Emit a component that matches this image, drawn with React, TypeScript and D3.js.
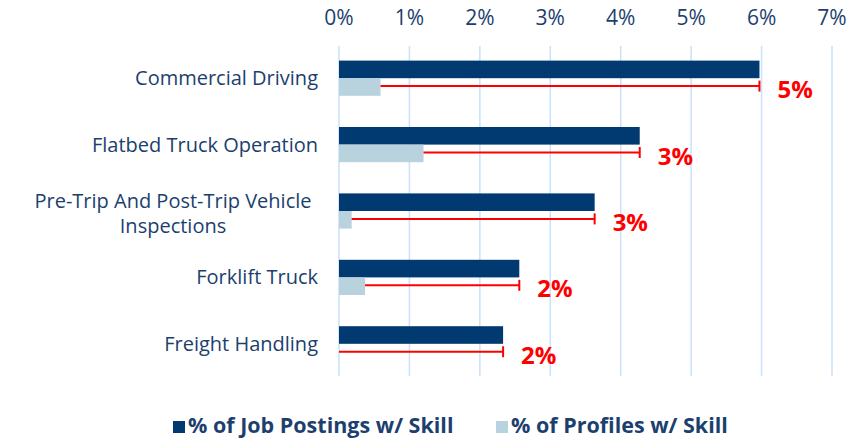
import React, { useEffect, useRef } from 'react';
import * as d3 from 'd3';

// chart data
const categories = [
  'Commercial Driving',
  'Flatbed Truck Operation',
  'Pre-Trip And Post-Trip Vehicle Inspections',
  'Forklift Truck',
  'Freight Handling',
];
const jobPostings = [5.97, 4.27, 3.63, 2.56, 2.33];
const profiles = [0.59, 1.2, 0.18, 0.37, 0];
const gapLabels = ['5%', '3%', '3%', '2%', '2%'];
const xTicks = [0, 1, 2, 3, 4, 5, 6, 7];
const seriesNames = ['% of Job Postings w/ Skill', '% of Profiles w/ Skill'];

const DARK = '#003a70';
const LIGHT = '#b8d3de';
const TEXT = '#1c3f6e';
const RED = '#ff0000';
const FONT = '"Open Sans", Lato, sans-serif';

function App() {
  const ref = useRef<SVGSVGElement>(null);

  useEffect(() => {
    const svg = d3.select(ref.current);
    svg.selectAll('*').remove();

    const x = d3.scaleLinear().domain([0, 7]).range([339, 832]);
    const y = d3
      .scaleBand()
      .domain(categories)
      .range([44, 378])
      .paddingInner(0.47)
      .paddingOuter(0.25);
    const half = y.bandwidth() / 2;

    // gridlines + top tick labels
    svg
      .append('g')
      .selectAll('line')
      .data(xTicks)
      .join('line')
      .attr('x1', (d) => x(d))
      .attr('x2', (d) => x(d))
      .attr('y1', 46)
      .attr('y2', 376)
      .attr('stroke', '#c8e2fb')
      .attr('stroke-width', 1.5);

    svg
      .append('g')
      .selectAll('text')
      .data(xTicks)
      .join('text')
      .attr('x', (d) => x(d))
      .attr('y', 25)
      .attr('text-anchor', 'middle')
      .attr('font-size', 21)
      .attr('fill', TEXT)
      .text((d) => `${d}%`);

    // bars
    svg
      .append('g')
      .selectAll('rect')
      .data(categories)
      .join('rect')
      .attr('x', x(0))
      .attr('y', (d) => y(d)!)
      .attr('width', (d, i) => x(jobPostings[i]) - x(0))
      .attr('height', half)
      .attr('fill', DARK);

    svg
      .append('g')
      .selectAll('rect')
      .data(categories)
      .join('rect')
      .attr('x', x(0))
      .attr('y', (d) => y(d)! + half)
      .attr('width', (d, i) => x(profiles[i]) - x(0))
      .attr('height', half)
      .attr('fill', LIGHT);

    // red gap lines
    const gap = svg.append('g').attr('stroke', RED).attr('stroke-width', 2);
    categories.forEach((c, i) => {
      const cy = y(c)! + half * 1.45;
      gap
        .append('line')
        .attr('x1', x(profiles[i]))
        .attr('x2', x(jobPostings[i]))
        .attr('y1', cy)
        .attr('y2', cy);
      gap
        .append('line')
        .attr('x1', x(jobPostings[i]))
        .attr('x2', x(jobPostings[i]))
        .attr('y1', cy - 5.5)
        .attr('y2', cy + 5.5);
      svg
        .append('text')
        .attr('x', x(jobPostings[i]) + 18)
        .attr('y', cy + 12)
        .attr('font-size', 24)
        .attr('font-weight', 'bold')
        .attr('fill', RED)
        .text(gapLabels[i]);
    });

    // category labels
    const labels = svg
      .append('g')
      .attr('font-size', 20)
      .attr('fill', TEXT);
    categories.forEach((c) => {
      const cy = y(c)! + half;
      if (c.startsWith('Pre-Trip')) {
        const t = labels.append('text').attr('text-anchor', 'middle');
        t.append('tspan').attr('x', 173).attr('y', cy - 3).text('Pre-Trip And Post-Trip Vehicle');
        t.append('tspan').attr('x', 173).attr('y', cy + 22).text('Inspections');
      } else {
        labels
          .append('text')
          .attr('x', 318)
          .attr('y', cy + 7)
          .attr('text-anchor', 'end')
          .text(c);
      }
    });

    // legend
    const legend = svg
      .append('g')
      .attr('font-size', 21.5)
      .attr('font-weight', 'bold')
      .attr('fill', TEXT);
    const legendX = [173, 496];
    [DARK, LIGHT].forEach((col, i) => {
      legend
        .append('rect')
        .attr('x', legendX[i])
        .attr('y', 421)
        .attr('width', 12)
        .attr('height', 12)
        .attr('fill', col);
      legend
        .append('text')
        .attr('x', legendX[i] + 15)
        .attr('y', 433)
        .text(seriesNames[i]);
    });
  }, []);

  return (
    <svg
      ref={ref}
      width={848}
      height={439}
      style={{ position: 'absolute', left: 0, top: 0, fontFamily: FONT, background: '#fff' }}
    />
  );
}

export default App;
